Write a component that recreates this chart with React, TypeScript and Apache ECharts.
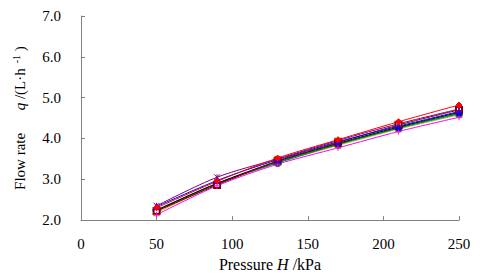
import React, { useEffect, useRef } from "react";
import * as echarts from "echarts";

const pressures = [50, 90, 130, 170, 210, 250];
const yTicks = [2, 3, 4, 5, 6, 7];
const xTicks = [0, 50, 100, 150, 200, 250];

const sRed = [2.3, 2.95, 3.52, 3.97, 4.41, 4.82];
const sPurple = [2.35, 3.05, 3.5, 3.95, 4.36, 4.72];
const sBlue = [2.33, 2.97, 3.48, 3.92, 4.3, 4.66];
const sDarkRed = [2.22, 2.86, 3.45, 3.9, 4.33, 4.7];
const sBlack = [2.24, 2.9, 3.44, 3.88, 4.28, 4.64];
const sGreen = [2.22, 2.88, 3.42, 3.86, 4.26, 4.62];
const sTeal = [2.25, 2.9, 3.4, 3.85, 4.25, 4.6];
const sYellow = [2.18, 2.87, 3.4, 3.83, 4.23, 4.58];
const sMagenta = [2.13, 2.84, 3.37, 3.77, 4.17, 4.52];

const seriesDefs = [
  { name: "S8", data: sYellow, color: "#c0c000", symbol: "rect" },
  { name: "S7", data: sTeal, color: "#008080", symbol: "emptyCircle" },
  { name: "S6", data: sGreen, color: "#008000", symbol: "circle" },
  { name: "S5", data: sBlack, color: "#000000", symbol: "emptyCircle" },
  { name: "S4", data: sDarkRed, color: "#800000", symbol: "emptyRect" },
  { name: "S9", data: sMagenta, color: "#ff00ff", symbol: "path://M0,5L10,5M5,0L5,10" },
  { name: "S3", data: sBlue, color: "#0000ff", symbol: "triangle" },
  { name: "S2", data: sPurple, color: "#800080", symbol: "path://M0,0L10,10M10,0L0,10M5,0L5,10" },
  { name: "S1", data: sRed, color: "#ff0000", symbol: "diamond" },
];

const FONT = "'Liberation Serif', 'Times New Roman', serif";

export default function App() {
  const ref = useRef<HTMLDivElement>(null);
  useEffect(() => {
    document.body.style.margin = "0";
    const chart = echarts.init(ref.current!, null, { renderer: "svg" });
    chart.setOption({
      animation: false,
      backgroundColor: "#ffffff",
      grid: { left: 81, right: 21, top: 16, bottom: 54, containLabel: false },
      xAxis: {
        type: "value",
        min: 0,
        max: 250,
        interval: 50,
        axisLine: { lineStyle: { color: "#808080", width: 1 } },
        axisTick: { inside: true, length: 4, lineStyle: { color: "#808080" } },
        splitLine: { show: false },
        axisLabel: {
          color: "#000",
          fontFamily: FONT,
          fontSize: 15,
          margin: 16,
          formatter: (v: number) => (xTicks.includes(v) ? String(v) : ""),
        },
        name: "{a|Pressure }{i|H}{a| /kPa}",
        nameLocation: "middle",
        nameGap: 32,
        nameTextStyle: {
          rich: {
            a: { fontFamily: FONT, fontSize: 16, color: "#000" },
            i: { fontFamily: FONT, fontSize: 16, fontStyle: "italic", color: "#000" },
          },
        },
      },
      yAxis: {
        type: "value",
        min: 2,
        max: 7,
        interval: 1,
        axisLine: { show: true, lineStyle: { color: "#808080", width: 1 } },
        axisTick: { show: true, inside: true, length: 4, lineStyle: { color: "#808080" } },
        splitLine: { show: false },
        axisLabel: {
          color: "#000",
          fontFamily: FONT,
          fontSize: 15,
          margin: 20,
          formatter: (v: number) => (yTicks.includes(v) ? v.toFixed(1) : ""),
        },
        name: "{a|Flow rate      }{i|q}{a| /(L·h}{s|  -1}{a| )}",
        nameLocation: "middle",
        nameGap: 52,
        nameRotate: 90,
        nameTextStyle: {
          rich: {
            a: { fontFamily: FONT, fontSize: 15, color: "#000" },
            i: { fontFamily: FONT, fontSize: 15, fontStyle: "italic", color: "#000" },
            s: { fontFamily: FONT, fontSize: 10, color: "#000", padding: [0, 0, 8, 0] },
          },
        },
      },
      series: seriesDefs.map((s) => ({
        name: s.name,
        type: "line",
        smooth: 0.3,
        data: s.data.map((v, i) => [pressures[i], v]),
        symbol: s.symbol,
        symbolSize: 6,
        lineStyle: { color: s.color, width: 1 },
        itemStyle: { color: s.color, borderColor: s.color, borderWidth: 1 },
      })),
    });
    return () => chart.dispose();
  }, []);
  return <div ref={ref} style={{ width: 480, height: 277 }} />;
}
